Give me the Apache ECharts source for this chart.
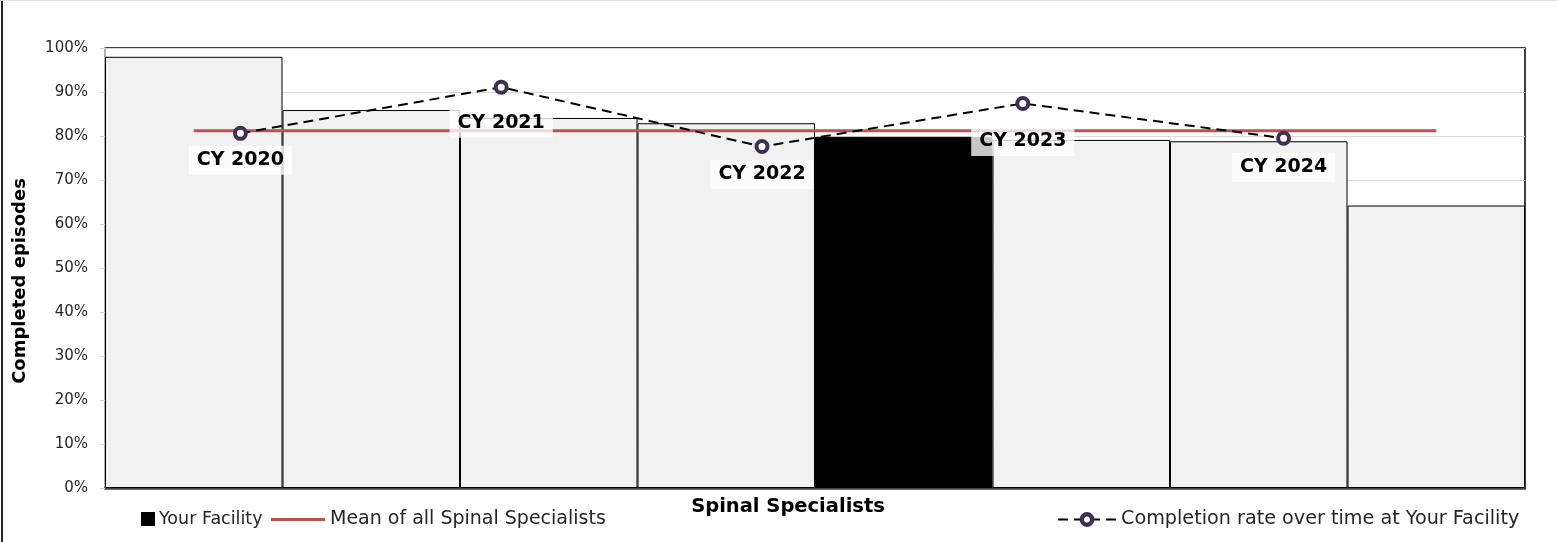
<!DOCTYPE html>
<html>
<head>
<meta charset="utf-8">
<script src="https://cdn.jsdelivr.net/npm/echarts@6/dist/echarts.min.js"></script>
<style>
html,body{margin:0;padding:0;background:#fff;}
#chart{width:1557px;height:542px;}
</style>
</head>
<body>
<div id="chart"></div>
<script>
// ---- data ----
const specialists = ['Specialist 1','Specialist 2','Specialist 3','Specialist 4','Your Facility','Specialist 6','Specialist 7','Specialist 8'];
const otherValues = [98.0, 85.9, 84.1, 82.9, null, 79.1, 78.8, 64.2];
const facilityValues = [null, null, null, null, 79.8, null, null, null];
const meanValue = 81.2;
const years = ['CY 2020','CY 2021','CY 2022','CY 2023','CY 2024'];
const rateValues = [80.6, 91.1, 77.6, 87.4, 79.5];
const yTicks = [0,10,20,30,40,50,60,70,80,90,100];

const labelDist = [5, 14, 6, 16, 7];
const FONT = 'DejaVu Sans';

const chart = echarts.init(document.getElementById('chart'), null, {renderer:'canvas'});
const option = {
  backgroundColor: '#fff',
  animation: false,
  textStyle: {fontFamily: FONT},
  grid: [
    {left:105, right:32, top:48, bottom:54, show:true, borderColor:'#000', borderWidth:1.5, backgroundColor:'transparent'},
    {left:110, right:143, top:48, bottom:54}
  ],
  xAxis: [
    {type:'category', gridIndex:0, data:specialists, boundaryGap:true,
     axisLine:{show:true, lineStyle:{color:'#404040', width:2.5}},
     axisTick:{show:false}, axisLabel:{show:false}, splitLine:{show:false}},
    {type:'category', gridIndex:1, data:years, boundaryGap:true, show:false}
  ],
  yAxis: [
    {type:'value', gridIndex:0, min:yTicks[0], max:yTicks[yTicks.length-1], interval:10,
     axisLine:{show:true, lineStyle:{color:'#d9d9d9', width:1.5}},
     axisTick:{show:true, length:5, lineStyle:{color:'#d9d9d9'}},
     axisLabel:{formatter:'{value}%', color:'#262626', fontSize:15, margin:17, fontFamily:FONT},
     splitLine:{show:true, lineStyle:{color:'#d9d9d9', width:1}}},
    {type:'value', gridIndex:1, min:0, max:100, show:false, splitLine:{show:false}}
  ],
  legend: [
    {data:[{name:'Your Facility', icon:'rect'}], left:141, top:510, padding:0, itemWidth:12, itemHeight:12, itemGap:5,
     textStyle:{fontSize:17.5, color:'#262626', fontFamily:FONT}},
    {data:[{name:'Mean of all Spinal Specialists', icon:'rect'}], left:271, top:510, padding:0, itemWidth:54, itemHeight:3,
     textStyle:{fontSize:19, color:'#262626', fontFamily:FONT}},
    {data:[{name:'Completion rate over time at Your Facility', itemStyle:{color:'#ffffff', borderColor:'#403152', borderWidth:4.5}}],
     left:1057, top:510, padding:0, itemWidth:58, itemHeight:13,
     textStyle:{fontSize:19.2, color:'#262626', fontFamily:FONT}}
  ],
  series: [
    {name:'Other Specialists', type:'bar', xAxisIndex:0, yAxisIndex:0, data:otherValues,
     barGap:'-100%', barCategoryGap:0,
     itemStyle:{color:'#f1f1f1', borderColor:'#000', borderWidth:1}},
    {name:'Your Facility', type:'bar', xAxisIndex:0, yAxisIndex:0, data:facilityValues,
     barGap:'-100%', barCategoryGap:0,
     itemStyle:{color:'#000', borderColor:'#000', borderWidth:1}},
    {name:'Mean of all Spinal Specialists', type:'line', xAxisIndex:0, yAxisIndex:0,
     data:specialists.map(()=>meanValue), showSymbol:false, symbol:'none',
     lineStyle:{color:'#c0504d', width:3}, itemStyle:{color:'#c0504d'}, z:3},
    {name:'Completion rate over time at Your Facility', type:'line', xAxisIndex:1, yAxisIndex:1,
     data:rateValues.map((v,i)=>({value:v, label:{distance:labelDist[i]}})),
     symbol:'circle', symbolSize:11, showSymbol:true,
     lineStyle:{color:'#000', width:2, type:[10,6]},
     itemStyle:{color:'#ffffff', borderColor:'#403152', borderWidth:4},
     label:{show:true, position:'bottom', formatter:(p)=>years[p.dataIndex],
       fontSize:19, fontWeight:'bold', color:'#000', fontFamily:FONT,
       backgroundColor:'rgba(255,255,255,0.78)', padding:[5,8,5,8]},
     z:4}
  ],
  graphic: [
    {type:'line', shape:{x1:2, y1:0, x2:2, y2:542}, style:{stroke:'#262626', lineWidth:2}, silent:true},
    {type:'line', shape:{x1:0, y1:0.5, x2:1557, y2:0.5}, style:{stroke:'#e0e0e0', lineWidth:1}, silent:true},
    {type:'text', x:788, y:507, style:{text:'Spinal Specialists',
      font:'bold 19.5px "DejaVu Sans"', fill:'#000', textAlign:'center', textVerticalAlign:'middle'}},
    {type:'text', x:20, y:281, rotation:Math.PI/2, style:{text:'Completed episodes',
      font:'bold 18px "DejaVu Sans"', fill:'#000', textAlign:'center', textVerticalAlign:'middle'}}
  ]
};
chart.setOption(option);
</script>
</body>
</html>
